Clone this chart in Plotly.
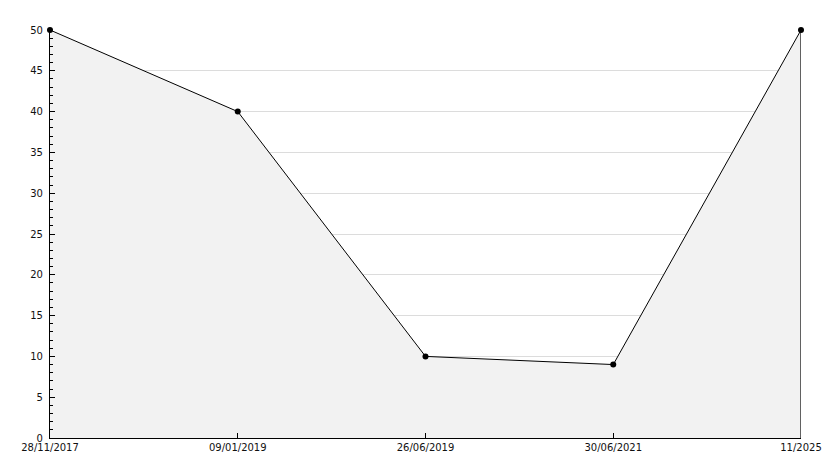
import plotly.graph_objects as go

categories = ["28/11/2017", "09/01/2019", "26/06/2019", "30/06/2021", "11/2025"]
values = [50, 40, 10, 9, 50]

idx = list(range(len(categories)))

fig = go.Figure()
fig.add_trace(go.Scatter(
    x=idx, y=values, mode="lines+markers",
    fill="tozeroy", fillcolor="#f2f2f2",
    line=dict(color="black", width=1),
    marker=dict(symbol="circle", size=6, color="black"),
    cliponaxis=False,
    hoverinfo="x+y", showlegend=False,
))
# right-edge closing line of the filled area
fig.add_trace(go.Scatter(
    x=[idx[-1], idx[-1]], y=[0, values[-1]], mode="lines",
    line=dict(color="black", width=1.2), hoverinfo="skip", showlegend=False,
    cliponaxis=False,
))

fig.update_layout(
    width=826, height=460,
    margin=dict(l=42, r=29, t=22, b=30),
    paper_bgcolor="white", plot_bgcolor="white",
    font=dict(family="DejaVu Sans", size=10, color="#111"),
    xaxis=dict(
        range=[0, len(categories) - 1],
        tickmode="array", tickvals=idx, ticktext=categories,
        showgrid=False, zeroline=False,
        showline=True, linecolor="black", linewidth=1.2,
        ticks="inside", ticklen=5, tickcolor="black",
    ),
    yaxis=dict(
        range=[0, 50], dtick=5, tick0=0,
        showgrid=True, gridcolor="#dcdcdc", gridwidth=1,
        zeroline=False,
        showline=True, linecolor="black", linewidth=1.2,
        ticks="inside", ticklen=5, tickcolor="black",
        ticklabelstandoff=4,
        minor=dict(dtick=1, ticks="inside", ticklen=3, tickcolor="black", showgrid=False),
    ),
)

fig.write_html("out.html")
